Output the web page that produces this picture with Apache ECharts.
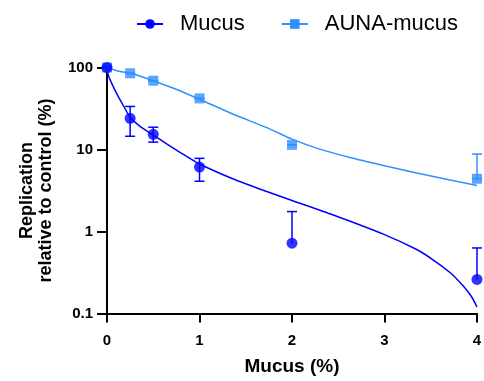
<!DOCTYPE html>
<html>
<head>
<meta charset="utf-8">
<script src="https://cdn.jsdelivr.net/npm/echarts@6/dist/echarts.min.js"></script>
<style>
  html, body { margin: 0; padding: 0; background: #fff; }
  #chart { width: 484px; height: 381px; }
</style>
</head>
<body>
<div id="chart"></div>
<script>
// concentrations (%)
var xs = [0, 0.25, 0.5, 1, 2, 4];

// Mucus: mean and error bar ends (null lower = not drawn on log scale)
var mucusMean  = [100, 24, 15.3, 6.1, 0.72, 0.26];
var mucusUpper = [100, 33.5, 18.7, 7.8, 1.75, 0.63];
var mucusLower = [100, 14.5, 12.3, 4.1, null, null];

// AUNA-mucus
var aunaMean  = [100, 85, 69, 42, 11.4, 4.4];
var aunaUpper = [100, 85, 69, 42, 11.4, 8.8];
var aunaLower = [100, 85, 69, 42, 11.4, 4.4];

// fitted curves
var mucusFitX = [0, 0.014, 0.051, 0.105, 0.176, 0.249, 0.357, 0.5, 0.645, 0.825, 1.0, 1.365, 1.727, 2.0, 2.446, 2.987, 3.348, 3.528, 3.708, 3.852, 3.943, 4.0];
var mucusFitY = [100, 81, 64, 48, 34.4, 24.9, 19.1, 15, 11.7, 8.7, 6.65, 4.37, 3.07, 2.39, 1.59, 0.93, 0.603, 0.449, 0.316, 0.216, 0.159, 0.12];
var aunaFitX = [0, 0.105, 0.249, 0.375, 0.5, 0.754, 1.0, 1.365, 1.727, 2.0, 2.267, 2.627, 2.987, 3.348, 3.708, 4.0];
var aunaFitY = [100, 91.4, 85, 77.3, 69, 54, 41, 26.9, 18.5, 13.4, 10.4, 7.98, 6.38, 5.17, 4.25, 3.64];

var yTicks = ['0.1', '1', '10', '100'];

var mucusColor = '#0000ff';
var aunaColor = '#3090ff';
var font = 'Liberation Sans, Arial, Helvetica, sans-serif';

function pairs(a, b) {
	var out = [];
	for (var i = 0; i < a.length; i++) out.push([a[i], b[i]]);
	return out;
}

function errData(mean, upper, lower) {
	var out = [];
	for (var i = 0; i < xs.length; i++) {
		out.push([xs[i], upper[i], lower[i] == null ? mean[i] : lower[i], lower[i] == null ? 0 : 1]);
	}
	return out;
}

function errRender(color) {
	return function (params, api) {
		var x = api.value(0);
		var top = api.coord([x, api.value(1)]);
		var bot = api.coord([x, api.value(2)]);
		var hasLower = api.value(3);
		var cap = 5;
		var kids = [{
			type: 'line',
			shape: { x1: top[0], y1: top[1], x2: bot[0], y2: bot[1] },
			style: { stroke: color, lineWidth: 1.5 }
		}, {
			type: 'line',
			shape: { x1: top[0] - cap, y1: top[1], x2: top[0] + cap, y2: top[1] },
			style: { stroke: color, lineWidth: 1.5 }
		}];
		if (hasLower) {
			kids.push({
				type: 'line',
				shape: { x1: bot[0] - cap, y1: bot[1], x2: bot[0] + cap, y2: bot[1] },
				style: { stroke: color, lineWidth: 1.5 }
			});
		}
		return { type: 'group', children: kids };
	};
}

var myChart = echarts.init(document.getElementById('chart'));
myChart.setOption({
	animation: false,
	textStyle: { fontFamily: font },
	legend: {
		data: ['Mucus', 'AUNA-mucus'],
		left: 131,
		top: 8,
		itemWidth: 26,
		itemHeight: 12,
		itemGap: 36,
		textStyle: {
			fontSize: 22,
			color: '#000',
			fontFamily: font,
			padding: [0, 0, 0, 12]
		}
	},
	grid: {
		left: 107,
		right: 7,
		top: 67.5,
		bottom: 67.5,
		outerBoundsMode: 'none'
	},
	xAxis: {
		type: 'value',
		min: 0,
		max: 4,
		interval: 1,
		name: 'Mucus (%)',
		nameLocation: 'middle',
		nameGap: 44,
		nameTextStyle: { fontSize: 19, fontWeight: 'bold', color: '#000' },
		axisLine: { show: true, lineStyle: { color: '#000', width: 2 } },
		axisTick: { show: true, length: 9, lineStyle: { color: '#000', width: 2 } },
		axisLabel: { fontSize: 15, fontWeight: 'bold', color: '#000', margin: 20 },
		splitLine: { show: false }
	},
	yAxis: {
		type: 'log',
		logBase: 10,
		min: 0.1,
		max: 100,
		name: 'Replication\nrelative to control (%)',
		nameLocation: 'middle',
		nameRotate: 90,
		nameGap: 51,
		nameTextStyle: { fontSize: 18, fontWeight: 'bold', color: '#000', lineHeight: 19 },
		axisLine: { show: true, lineStyle: { color: '#000', width: 2 } },
		axisTick: { show: true, length: 10, lineStyle: { color: '#000', width: 2 } },
		minorTick: { show: false },
		axisLabel: {
			fontSize: 15, fontWeight: 'bold', color: '#000', margin: 14,
			formatter: function (v) {
				for (var i = 0; i < yTicks.length; i++) {
					if (Math.abs(Math.log10(v) - Math.log10(parseFloat(yTicks[i]))) < 1e-6) return yTicks[i];
				}
				return '';
			}
		},
		splitLine: { show: false }
	},
	series: [{
		name: 'Mucus',
		type: 'line',
		data: pairs(mucusFitX, mucusFitY),
		smooth: 0.25,
		symbol: 'circle',
		symbolSize: 9,
		showSymbol: false,
		color: mucusColor,
		lineStyle: { color: mucusColor, width: 1.5 },
		z: 2
	}, {
		name: 'AUNA-mucus',
		type: 'line',
		data: pairs(aunaFitX, aunaFitY),
		smooth: 0.25,
		symbol: 'rect',
		symbolSize: 9,
		showSymbol: false,
		color: aunaColor,
		lineStyle: { color: aunaColor, width: 1.5 },
		z: 2
	}, {
		name: 'Mucus',
		type: 'custom',
		data: errData(mucusMean, mucusUpper, mucusLower),
		renderItem: errRender(mucusColor),
		z: 3
	}, {
		name: 'AUNA-mucus',
		type: 'custom',
		data: errData(aunaMean, aunaUpper, aunaLower),
		renderItem: errRender(aunaColor),
		z: 3
	}, {
		name: 'Mucus',
		type: 'scatter',
		data: pairs(xs, mucusMean),
		symbol: 'circle',
		symbolSize: 11,
		itemStyle: { color: mucusColor },
		z: 5
	}, {
		name: 'AUNA-mucus',
		type: 'scatter',
		data: pairs(xs, aunaMean),
		symbol: 'rect',
		symbolSize: 10,
		itemStyle: { color: aunaColor },
		z: 4
	}]
});
</script>
</body>
</html>
